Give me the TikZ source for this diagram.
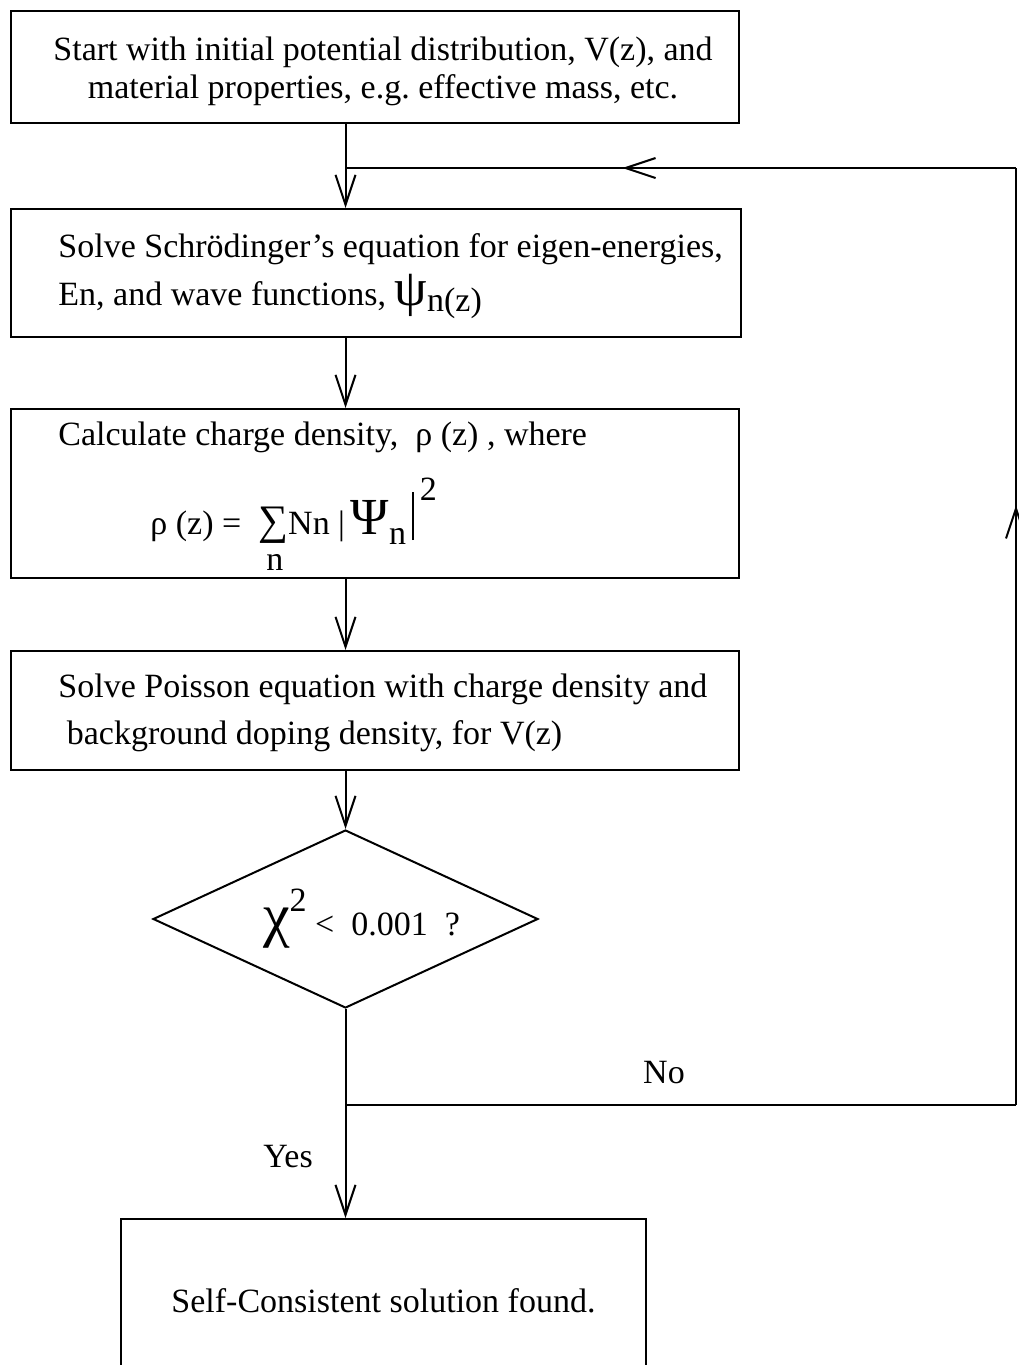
\documentclass[tikz,border=0pt]{standalone}
\usepackage{fontspec}
\setmainfont{Liberation Serif}
\usetikzlibrary{shapes.geometric,arrows.meta,decorations.markings}

\tikzset{
  box/.style={draw, line width=1pt, inner sep=0pt, anchor=north west},
  txt/.style={inner sep=0pt, align=left, anchor=west},
  cond/.style={diamond, draw, line width=1pt, inner sep=0pt, aspect=2.16,
    minimum width=192.5pt, minimum height=89pt},
  link/.style={line width=1pt},
  flow/.style={link, -{Straight Barb[length=15pt,width=10pt]}},
  midarrow/.style={postaction={decorate}, decoration={markings,
    mark=at position #1 with {\arrow{Straight Barb[length=15pt,width=10pt]}}}},
}

\begin{document}
\frenchspacing
\begin{tikzpicture}[x=0.5pt, y=-0.5pt, font=\fontsize{17}{19}\selectfont]
\useasboundingbox (0,0) rectangle (1018,1365);

% Boxes
\node[box, minimum width=364pt, minimum height=56pt] (start) at (10,10) {};
\node[txt, align=center, anchor=center] (starttext) at (383,71)
  {Start with initial potential distribution, V(z), and\\
   material properties, e.g. effective mass, etc.};

\node[box, minimum width=365pt, minimum height=64pt] (schrod) at (10,208) {};
\node[txt, font=\fontsize{17}{24}\selectfont] (schrodtext) at (58,276)
  {Solve Schrödinger’s equation for eigen-energies,\\
   En, and wave functions, {\fontsize{26}{26}\selectfont ψ}\raisebox{-3pt}{n(z)}};

\node[box, minimum width=364pt, minimum height=84.5pt] (charge) at (10,408) {};
\node[txt] (chargetext) at (58,437) {Calculate charge density,\ \ ρ (z)\ , where};
\node[txt, anchor=base west] (chargeeq) at (150,534)
  {ρ (z) =\ \ \makebox[0pt][l]{\hspace{4pt}\raisebox{-18pt}{n}}{\fontsize{21}{21}\selectfont ∑}Nn\ |\,{\fontsize{26}{26}\selectfont Ψ}\raisebox{-5pt}{n}\hspace{3pt}\rule[-3pt]{1pt}{24pt}\,\raisebox{17pt}{2}};

\node[box, minimum width=364pt, minimum height=59.5pt] (poisson) at (10,650) {};
\node[txt, font=\fontsize{17}{23.5}\selectfont] (poissontext) at (58,713)
  {Solve Poisson equation with charge density and\\
   \ background doping density, for V(z)};

% Test
\node[cond] (conv) at (345.5,919)
  {\hspace*{16pt}{\fontsize{30}{30}\selectfont χ}\raisebox{12pt}{2}\ < \ 0.001 \ ?};

\node[box, minimum width=262.5pt, minimum height=82pt] (done) at (120,1218)
  {Self-Consistent solution found.};

% Labels
\node (no) at (664,1073) {No};
\node (yes) at (288,1157) {Yes};

% Flow
\draw[flow] (start.south -| conv.north) -- (schrod.north -| conv.north);
\draw[flow] (schrod.south -| conv.north) -- (charge.north -| conv.north);
\draw[flow] (charge.south -| conv.north) -- (poisson.north -| conv.north);
\draw[flow] (poisson.south -| conv.north) -- (conv.north);
\draw[flow] (conv.south) -- (done.north -| conv.south);

% Feedback loop
\coordinate (split) at (345.5,1105);
\coordinate (back) at (1016,1105);
\coordinate (top) at (1016,168);
\coordinate (merge) at (345.5,168);
\draw[link] (split) -- (back);
\draw[link, midarrow=0.64] (back) -- (top);
\draw[link, midarrow=0.587] (top) -- (merge);

\end{tikzpicture}
\end{document}
